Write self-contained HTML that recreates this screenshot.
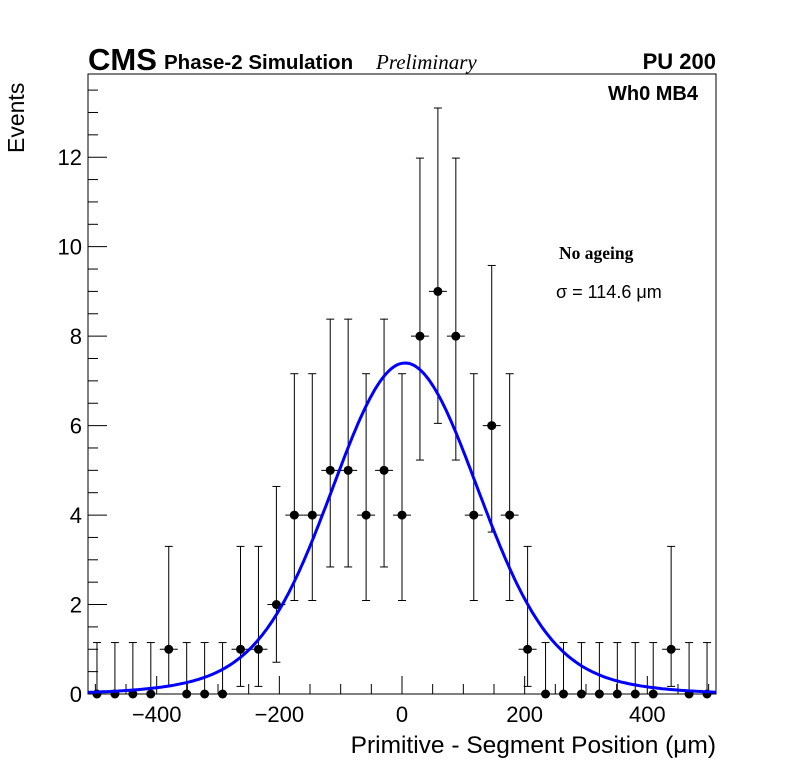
<!DOCTYPE html>
<html><head><meta charset="utf-8"><style>
html,body{margin:0;padding:0;background:#fff;}
svg{display:block;font-family:"Liberation Sans",sans-serif;}
</style></head><body>
<svg id="chart" width="796" height="772" viewBox="0 0 796 772" xmlns="http://www.w3.org/2000/svg">
<rect x="0" y="0" width="796" height="772" fill="#fff"/>
<g id="axes"></g>
<g id="marks"></g>
<text x="88" y="70" font-size="31" font-weight="bold">CMS</text>
<text x="164" y="69" font-size="20.5" font-weight="bold">Phase-2 Simulation</text>
<text x="376" y="69" font-size="21" font-style="italic" font-family="Liberation Serif, serif">Preliminary</text>
<text x="716" y="69" font-size="22" font-weight="bold" text-anchor="end">PU 200</text>
<text x="698" y="100" font-size="20" font-weight="bold" text-anchor="end">Wh0 MB4</text>
<text x="559" y="259" font-size="17.5" font-weight="bold" font-family="Liberation Serif, serif">No ageing</text>
<text x="556" y="298" font-size="18">σ = 114.6 μm</text>
<text transform="translate(24,153) rotate(-90)" font-size="23">Events</text>
<text x="716" y="753" font-size="24.5" text-anchor="end">Primitive - Segment Position (μm)</text>
</svg>
<script>
const counts = [0,0,0,0,1,0,0,0,1,1,2,4,4,5,5,4,5,4,8,9,8,4,6,4,1,0,0,0,0,0,0,0,1,0,0];
const errLow = {0:0,1:0.17,2:0.71,4:2.09,5:2.84,6:3.62,8:5.23,9:6.05};
const errHigh = {0:1.15,1:3.30,2:4.64,4:7.16,5:8.38,6:9.58,8:11.98,9:13.1};
const xTicks = [-400,-200,0,200,400];
const yTicks = [0,2,4,6,8,10,12];
const fitParams = [6.4, 5, 114.6, 1.0, 200];
const xMin=-512, xMax=512, yMin=0, yMax=13.86;
const L=88,R=716,T=74,B=694;
const sx=v=>L+(v-xMin)/(xMax-xMin)*(R-L);
const sy=v=>B-(v-yMin)/(yMax-yMin)*(B-T);
const NS="http://www.w3.org/2000/svg";
function mk(tag,attrs,parent){const e=document.createElementNS(NS,tag);for(const k in attrs)e.setAttribute(k,attrs[k]);parent.appendChild(e);return e;}
const axes=document.getElementById('axes'), marks=document.getElementById('marks');
const frame=mk('rect',{x:L,y:T,width:R-L,height:B-T,fill:'none',stroke:'#000','stroke-width':1},axes);


for(let v=-500;v<=500;v+=50){
  const major=v%200===0;
  const t=mk('line',{x1:sx(v),x2:sx(v),y1:B,y2:B-(major?18:10),stroke:'#000'},axes);
  
  
}
xTicks.forEach(v=>{const t=mk('text',{x:sx(v),y:B+28,'font-size':22,'text-anchor':'middle'},axes);t.textContent=(v<0?'\u2212'+(-v):v);

});
for(let v=0;v<=13.5;v+=0.5){
  const major=v%2===0;
  const t=mk('line',{x1:L,x2:L+(major?19:10),y1:sy(v),y2:sy(v),stroke:'#000'},axes);
  
  
}
yTicks.forEach(v=>{const t=mk('text',{x:L-6,y:sy(v)+8,'font-size':22,'text-anchor':'end'},axes);t.textContent=v;

});
const bw=(xMax-xMin)/counts.length;
counts.forEach((c,i)=>{
  const xc=xMin+(i+0.5)*bw, px=sx(xc);
  const g=mk('g',{},marks);
  
  
  mk('line',{x1:px,x2:px,y1:sy(errLow[c]),y2:sy(errHigh[c]),stroke:'#000'},g);
  mk('line',{x1:px-4,x2:px+4,y1:sy(errHigh[c]),y2:sy(errHigh[c]),stroke:'#000'},g);
  if(c>0){mk('line',{x1:px-4,x2:px+4,y1:sy(errLow[c]),y2:sy(errLow[c]),stroke:'#000'},g);
  mk('line',{x1:sx(xc-bw/2),x2:sx(xc+bw/2),y1:sy(c),y2:sy(c),stroke:'#000'},g);}
  mk('circle',{cx:px,cy:sy(c),r:4.5,fill:'#000'},g);
});
const [A1,mu,s1,A2,s2]=fitParams;
let d='';
for(let x=xMin;x<=xMax;x+=4){const y=A1*Math.exp(-((x-mu)**2)/(2*s1*s1))+A2*Math.exp(-((x-mu)**2)/(2*s2*s2));d+=(d?'L':'M')+sx(x).toFixed(1)+','+sy(y).toFixed(1);}
const fit=mk('path',{d:d,fill:'none',stroke:'#0000ff','stroke-width':3},marks);


</script>
</body></html>
